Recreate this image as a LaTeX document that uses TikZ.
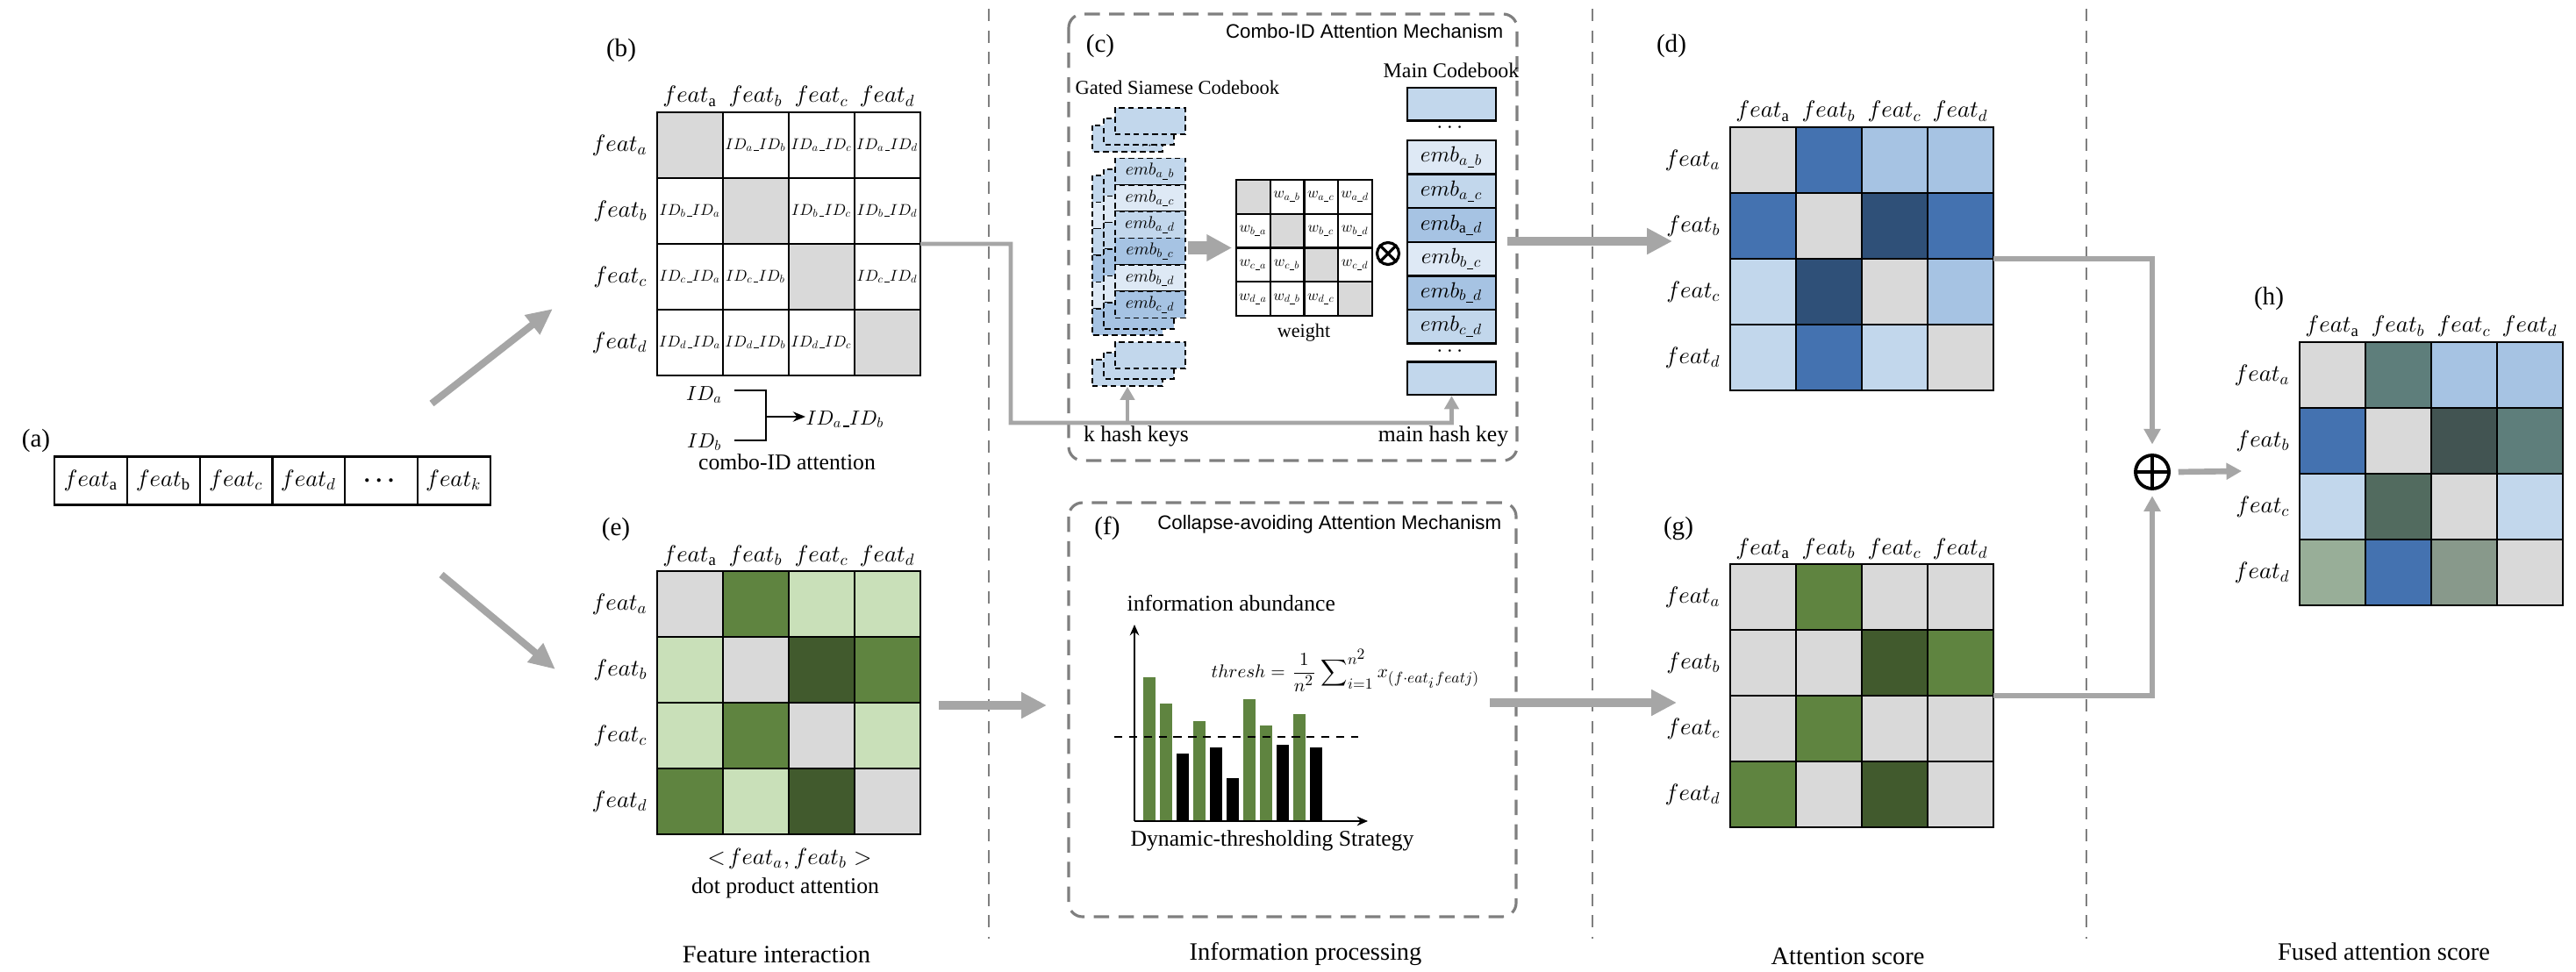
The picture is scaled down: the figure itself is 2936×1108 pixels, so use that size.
\documentclass[tikz,border=0pt]{standalone}
\usepackage{amsmath}
\usepackage{fontspec}
\setmainfont{Liberation Serif}
\newfontfamily\sansf{Liberation Sans}
\usetikzlibrary{arrows.meta}
\DeclareFontShape{OML}{cmm}{m}{it}{<->cmmi10}{}
\DeclareFontShape{OML}{cmm}{b}{it}{<->cmmib10}{}
\DeclareFontShape{OMS}{cmsy}{m}{n}{<->cmsy10}{}
\DeclareFontShape{OMS}{cmsy}{b}{n}{<->cmbsy10}{}
\DeclareFontShape{OT1}{cmr}{m}{n}{<->cmr10}{}
\DeclareFontShape{OMX}{cmex}{m}{n}{<->cmex10}{}
\newcommand{\fsz}[1]{\fontsize{#1pt}{#1pt}\selectfont}
\newcommand{\us}{\mbox{\kern0.02em\rule[-0.1em]{0.3em}{0.045em}\kern0.02em}}
\definecolor{cgray}{HTML}{D9D9D9}
\definecolor{agray}{HTML}{A6A6A6}
\definecolor{dgray}{HTML}{7F7F7F}
\definecolor{gmid}{HTML}{5F8440}
\definecolor{gdark}{HTML}{415A2D}
\definecolor{glight}{HTML}{C9E0B9}
\definecolor{bmid}{HTML}{4472B0}
\definecolor{bdark}{HTML}{2F5078}
\definecolor{blight}{HTML}{A6C3E3}
\definecolor{bvlight}{HTML}{C2D7EC}
\definecolor{bpale}{HTML}{DEE9F5}
\definecolor{hteal}{HTML}{5E7E7B}
\definecolor{hdteal}{HTML}{425452}
\definecolor{hcb}{HTML}{526B5F}
\definecolor{hda}{HTML}{98AE98}
\definecolor{hdc}{HTML}{88998B}
\newcommand{\heat}[4]{%
  \foreach \cc [count=\ii from 0] in {#4} {%
    \pgfmathtruncatemacro{\rr}{\ii/4}%
    \pgfmathtruncatemacro{\kk}{\ii-4*\rr}%
    \node[cell, fill=\cc, minimum size=7.5mm] (#1-\rr-\kk) at ({#2+(\kk+0.5)*75},{#3+(\rr+0.5)*75}) {};
  }
  \node[hdr, anchor=base] (#1-ha) at ({#2+37.5},{#3-11}) {$feat_{\mathrm{a}}$};
  \node[hdr, anchor=base] (#1-hb) at ({#2+112.5},{#3-11}) {$feat_b$};
  \node[hdr, anchor=base] (#1-hc) at ({#2+187.5},{#3-11}) {$feat_c$};
  \node[hdr, anchor=base] (#1-hd) at ({#2+262.5},{#3-11}) {$feat_d$};
  \node[hdr, anchor=base east] (#1-ra) at ({#2-10},{#3+44.5}) {$feat_a$};
  \node[hdr, anchor=base east] (#1-rb) at ({#2-10},{#3+119.5}) {$feat_b$};
  \node[hdr, anchor=base east] (#1-rc) at ({#2-10},{#3+194.5}) {$feat_c$};
  \node[hdr, anchor=base east] (#1-rd) at ({#2-10},{#3+269.5}) {$feat_d$};
}
\begin{document}
\begin{tikzpicture}[x=0.1mm,y=-0.1mm,
  cell/.style={draw=black, line width=0.6pt, inner sep=0pt, outer sep=0pt},
  hdr/.style={font=\fsz{7.6}, inner sep=0pt},
  plabel/.style={font=\fsz{8.3}, inner sep=0pt},
  bodytxt/.style={font=\fsz{7.3}, inner sep=0pt},
  captxt/.style={font=\fsz{8.1}, inner sep=0pt},
  mechtitle/.style={font=\sansf\fsz{6.35}, inner sep=0pt},
  idtxt/.style={font=\fsz{5.1}, inner sep=0pt},
  wtxt/.style={font=\fsz{4.9}, inner sep=0pt},
  arow/.style={draw=black, line width=0.6pt, minimum width=8.27mm, minimum height=5.5mm, inner sep=0pt, font=\fsz{7.6}},
  mcbox/.style={draw=black, line width=0.7pt, minimum width=10.1mm, minimum height=3.75mm, inner sep=0pt, font=\fsz{7.1}},
  gdash/.style={draw=black, line width=0.45pt, dash pattern=on 1.8pt off 1.2pt},
  gbox/.style={gdash, minimum width=8mm, minimum height=3.035mm, inner sep=0pt, font=\fsz{5.6}},
  divider/.style={draw=dgray, line width=0.8pt, dash pattern=on 4pt off 3pt},
  dashbox/.style={draw=dgray, line width=0.9pt, dash pattern=on 5pt off 3pt, rounded corners=4.5pt},
  fatarrow/.style={draw=agray, line width=2.3pt, -{Triangle[length=8.5pt,width=7.5pt]}},
  midarrow/.style={draw=agray, line width=2.9pt, -{Triangle[length=8.2pt,width=8pt]}},
  gatearrow/.style={draw=agray, line width=4pt, -{Triangle[length=8.2pt,width=8.2pt]}},
  linkarrow/.style={draw=agray, line width=1.4pt, -{Triangle[length=4.3pt,width=4.6pt]}},
  sumarrow/.style={draw=agray, line width=1.9pt, -{Triangle[length=5pt,width=5.2pt]}},
  brline/.style={draw=black, line width=0.7pt},
]
\useasboundingbox (0,0) rectangle (2936,1108);

% ---------- dividers ----------
\draw[divider] (1127,10) -- (1127,1070);
\draw[divider] (1815,10) -- (1815,1070);
\draw[divider] (2378,10) -- (2378,1070);

% ---------- (a) ----------
\node[plabel] (la) at (41,502) {(a)};
\node[arow] (a1) at (103.7,548) {$feat_{\mathrm{a}}$};
\node[arow] (a2) at (186.4,548) {$feat_{\mathrm{b}}$};
\node[arow] (a3) at (269.1,548) {$feat_c$};
\node[arow] (a4) at (351.8,548) {$feat_d$};
\node[arow] (a5) at (434.5,548) {$\boldsymbol{\cdots}$};
\node[arow] (a6) at (517.2,548) {$feat_k$};
\coordinate (up0) at (492,460); \coordinate (up1) at (630,352);
\coordinate (dn0) at (503,655); \coordinate (dn1) at (633,763);
\draw[fatarrow] (up0) -- (up1);
\draw[fatarrow] (dn0) -- (dn1);

% ---------- (b) ----------
\node[plabel] (lb) at (708,57) {(b)};
\heat{b}{749}{128}{cgray,white,white,white, white,cgray,white,white, white,white,cgray,white, white,white,white,cgray}
\foreach \r/\k/\p/\q in {0/1/a/b,0/2/a/c,0/3/a/d,1/0/b/a,1/2/b/c,1/3/b/d,2/0/c/a,2/1/c/b,2/3/c/d,3/0/d/a,3/1/d/b,3/2/d/c}
  \node[idtxt] at (b-\r-\k) {$ID_{\p}\us ID_{\q}$};
\node[font=\fsz{6.6}, inner sep=0pt] (ida) at (803,450) {$ID_a$};
\node[font=\fsz{6.6}, inner sep=0pt] (idb) at (803,504) {$ID_b$};
\node[font=\fsz{6.6}, inner sep=0pt, anchor=west] (idab) at (918,478) {$ID_a\us ID_b$};
\coordinate (bk1) at (837,445); \coordinate (bk2) at (873,445);
\coordinate (bk3) at (873,502); \coordinate (bk4) at (837,502);
\coordinate (bk5) at (873,475);
\draw[brline] (bk1) -- (bk2) -- (bk3) -- (bk4);
\draw[brline, -{Stealth[length=4pt,width=3.2pt]}] (bk5) -- (bk5 -| idab.west);
\node[bodytxt] (combo) at (897,527) {combo-ID attention};

% ---------- (e) ----------
\node[plabel] (le) at (702,603) {(e)};
\heat{e}{749}{651}{cgray,gmid,glight,glight, glight,cgray,gdark,gmid, glight,gmid,cgray,glight, gmid,glight,gdark,cgray}
\node[font=\fsz{7.5}, inner sep=0pt] (dotf) at (900,979) {$<\!feat_a, feat_b >$};
\node[bodytxt] (dotp) at (895,1012) {dot product attention};

% ---------- (c) ----------
\draw[dashbox] (1218,16) rectangle (1729,525);
\node[mechtitle, anchor=east] (ctitle) at (1714,36) {Combo-ID Attention Mechanism};
\node[plabel] (lc) at (1254,52) {(c)};
\node[font=\fsz{6.4}, inner sep=0pt, anchor=west] (gsc) at (1225,100) {Gated Siamese Codebook};
\node[font=\fsz{6.8}, inner sep=0pt] (mcl) at (1654,80) {Main Codebook};

% gated siamese codebook: top group
\filldraw[gdash, fill=bvlight] (1245,143) rectangle (1325,173);
\filldraw[gdash, fill=bvlight] (1258,135) rectangle (1338,165);
\node[gbox, fill=bvlight, minimum height=3mm] (gt) at (1311,138) {};
\node[font=\fsz{5}, inner sep=0pt] (gtd) at (1312,167) {$\cdots$};
% middle group
\foreach \cc [count=\ii from 0] in {bvlight,bpale,bvlight,blight,bpale,blight}
  \filldraw[gdash, fill=\cc] (1245,{200+\ii*30.35}) rectangle (1325,{200+(\ii+1)*30.35});
\foreach \cc [count=\ii from 0] in {bvlight,bpale,bvlight,blight,bpale,blight}
  \filldraw[gdash, fill=\cc] (1258,{193+\ii*30.35}) rectangle (1338,{193+(\ii+1)*30.35});
\foreach \cc/\t [count=\ii from 0] in {bvlight/a\us b,bpale/a\us c,bvlight/a\us d,blight/b\us c,bpale/b\us d,blight/c\us d}
  \node[gbox, fill=\cc] (gf\ii) at (1311,{180.4+(\ii+0.5)*30.35}) {$emb_{\t}$};
\node[font=\fsz{5}, inner sep=0pt] (gmd) at (1312,378) {$\cdots$};
% bottom group
\node[gbox, fill=bvlight, minimum height=3mm] (gbb) at (1285,425) {};
\filldraw[gdash, fill=bvlight] (1258,402) rectangle (1338,432);
\node[gbox, fill=bvlight, minimum height=3mm] (gb) at (1311,405) {};

% weight matrix
\foreach \cc [count=\ii from 0] in {cgray,white,white,white, white,cgray,white,white, white,white,cgray,white, white,white,white,cgray} {
  \pgfmathtruncatemacro{\rr}{\ii/4}
  \pgfmathtruncatemacro{\kk}{\ii-4*\rr}
  \node[cell, fill=\cc, minimum size=3.875mm] (w-\rr-\kk) at ({1409+(\kk+0.5)*38.75},{205+(\rr+0.5)*38.75}) {};
}
\foreach \r/\k/\t in {0/1/a\us b,0/2/a\us c,0/3/a\us d,1/0/b\us a,1/2/b\us c,1/3/b\us d,2/0/c\us a,2/1/c\us b,2/3/c\us d,3/0/d\us a,3/1/d\us b,3/2/d\us c}
  \node[wtxt] at (w-\r-\k) {$w_{\t}$};
\node[font=\fsz{6.3}, inner sep=0pt] (wl) at (1486,379) {weight};
\draw[gatearrow] ([xshift=0.6pt]gf3.east |- w-1-0.south west) -- ([xshift=-1.4pt]w-1-0.south west);

% otimes
\node[draw, circle, line width=0.9pt, minimum size=2.5mm, inner sep=0pt] (otimes) at (1582,289) {};
\draw[line width=0.9pt] (otimes.north east) -- (otimes.south west) (otimes.north west) -- (otimes.south east);

% main codebook
\node[mcbox, fill=bvlight] (mctop) at (1654.5,118.75) {};
\node[bodytxt] (mcd1) at (1654.5,146) {$\cdots$};
\foreach \cc/\t [count=\ii from 0] in {bpale/a\us b,bvlight/a\us c,blight/\mathrm{a}\us d,bpale/b\us c,blight/b\us d,bvlight/c\us d}
  \node[mcbox, fill=\cc, minimum height=3.86mm] (mc\ii) at (1654.5,{160+(\ii+0.5)*38.6}) {$emb_{\t}$};
\node[bodytxt] (mcd2) at (1654.5,401) {$\cdots$};
\node[mcbox, fill=bvlight] (mcbot) at (1654.5,431.25) {};

\node[bodytxt] (khk) at (1295,497) {k hash keys};
\node[bodytxt] (mhk) at (1645,497) {main hash key};

% connector (b) -> (c)
\coordinate (bt1) at (1152,278);
\coordinate (bt2) at (1152,482);
\coordinate (kj) at (1285,482);
\draw[linkarrow] (b-1-3.south east) -- (bt1) -- (bt2) -- (bt2 -| mcbot.south) -- (mcbot.south);
\draw[linkarrow] (kj) -- (gbb.south);

% ---------- (f) ----------
\draw[dashbox] (1218,573) rectangle (1728,1045);
\node[mechtitle, anchor=east] (ftitle) at (1712,598) {Collapse-avoiding Attention Mechanism};
\node[plabel] (lf) at (1262,602) {(f)};
\node[bodytxt, anchor=west] (infoab) at (1284,688) {information abundance};
\foreach \xx/\tt/\cc in {1302.5/772/gmid,1321.5/802/gmid,1340.5/859/black,1359.5/822/gmid,1378.5/852/black,1397.5/887/black,1416.5/797/gmid,1435.5/827/gmid,1454.5/849/black,1473.5/814/gmid,1492.5/852/black}
  \fill[\cc] (\xx,936) rectangle ({\xx+14},\tt);
\coordinate (ax0) at (1293,936);
\coordinate (axy) at (1293,712);
\coordinate (axx) at (1559,936);
\draw[line width=0.7pt, -{Stealth[length=3.5pt,width=3pt]}] (ax0) -- (axy);
\draw[line width=0.7pt, -{Stealth[length=3.5pt,width=3pt]}] (ax0) -- (axx);
\coordinate (th0) at (1270,840); \coordinate (th1) at (1548,840);
\draw[line width=0.6pt, dash pattern=on 2.6pt off 2.2pt] (th0) -- (th1);
\node[font=\fsz{6}, inner sep=0pt, anchor=west] (thresh) at (1380,764) {$thresh=\dfrac{1}{n^2}\displaystyle\sum\nolimits_{i=1}^{n^2} x_{(f\cdot eat_i feat j)}$};
\node[bodytxt] (dts) at (1450,958) {Dynamic-thresholding Strategy};

% ---------- (d) ----------
\node[plabel] (ld) at (1905,52) {(d)};
\heat{d}{1972}{145}{cgray,bmid,blight,blight, bmid,cgray,bdark,bmid, bvlight,bdark,cgray,blight, bvlight,bmid,bvlight,cgray}

% ---------- (g) ----------
\node[plabel] (lg) at (1913,603) {(g)};
\heat{g}{1972}{643}{cgray,gmid,cgray,cgray, cgray,cgray,gdark,gmid, cgray,gmid,cgray,cgray, gmid,cgray,gdark,cgray}

% process arrows
\coordinate (cd0) at (1718,275); \coordinate (cd1) at (1906,275);
\draw[midarrow] (cd0) -- (cd1);
\coordinate (ef0) at (1070,804); \coordinate (ef1) at (1193,804);
\draw[midarrow] (ef0) -- (ef1);
\coordinate (fg0) at (1698,801); \coordinate (fg1) at (1911,801);
\draw[midarrow] (fg0) -- (fg1);

% ---------- fusion ----------
\node[draw, circle, line width=1.1pt, minimum size=3.8mm, inner sep=0pt] (plus) at (2453,538) {};
\draw[line width=1.1pt] (plus.north) -- (plus.south) (plus.west) -- (plus.east);
\draw[sumarrow] (d-1-3.south east) -| ([yshift=3pt]plus.north);
\draw[sumarrow] (g-1-3.south east) -| ([yshift=-1.8pt]plus.south);
\coordinate (ph1) at (2555,537);
\draw[sumarrow] ([xshift=2.5pt]plus.east) -- (ph1);

% ---------- (h) ----------
\node[plabel] (lh) at (2586,340) {(h)};
\heat{h}{2621}{390}{cgray,hteal,blight,blight, bmid,cgray,hdteal,hteal, bvlight,hcb,cgray,bvlight, hda,bmid,hdc,cgray}

% ---------- captions ----------
\node[captxt] (c1) at (885,1088) {Feature interaction};
\node[captxt] (c2) at (1488,1088) {Information processing};
\node[captxt] (c3) at (2106,1090) {Attention score};
\node[captxt] (c4) at (2717,1085) {Fused attention score};
\end{tikzpicture}
\end{document}
